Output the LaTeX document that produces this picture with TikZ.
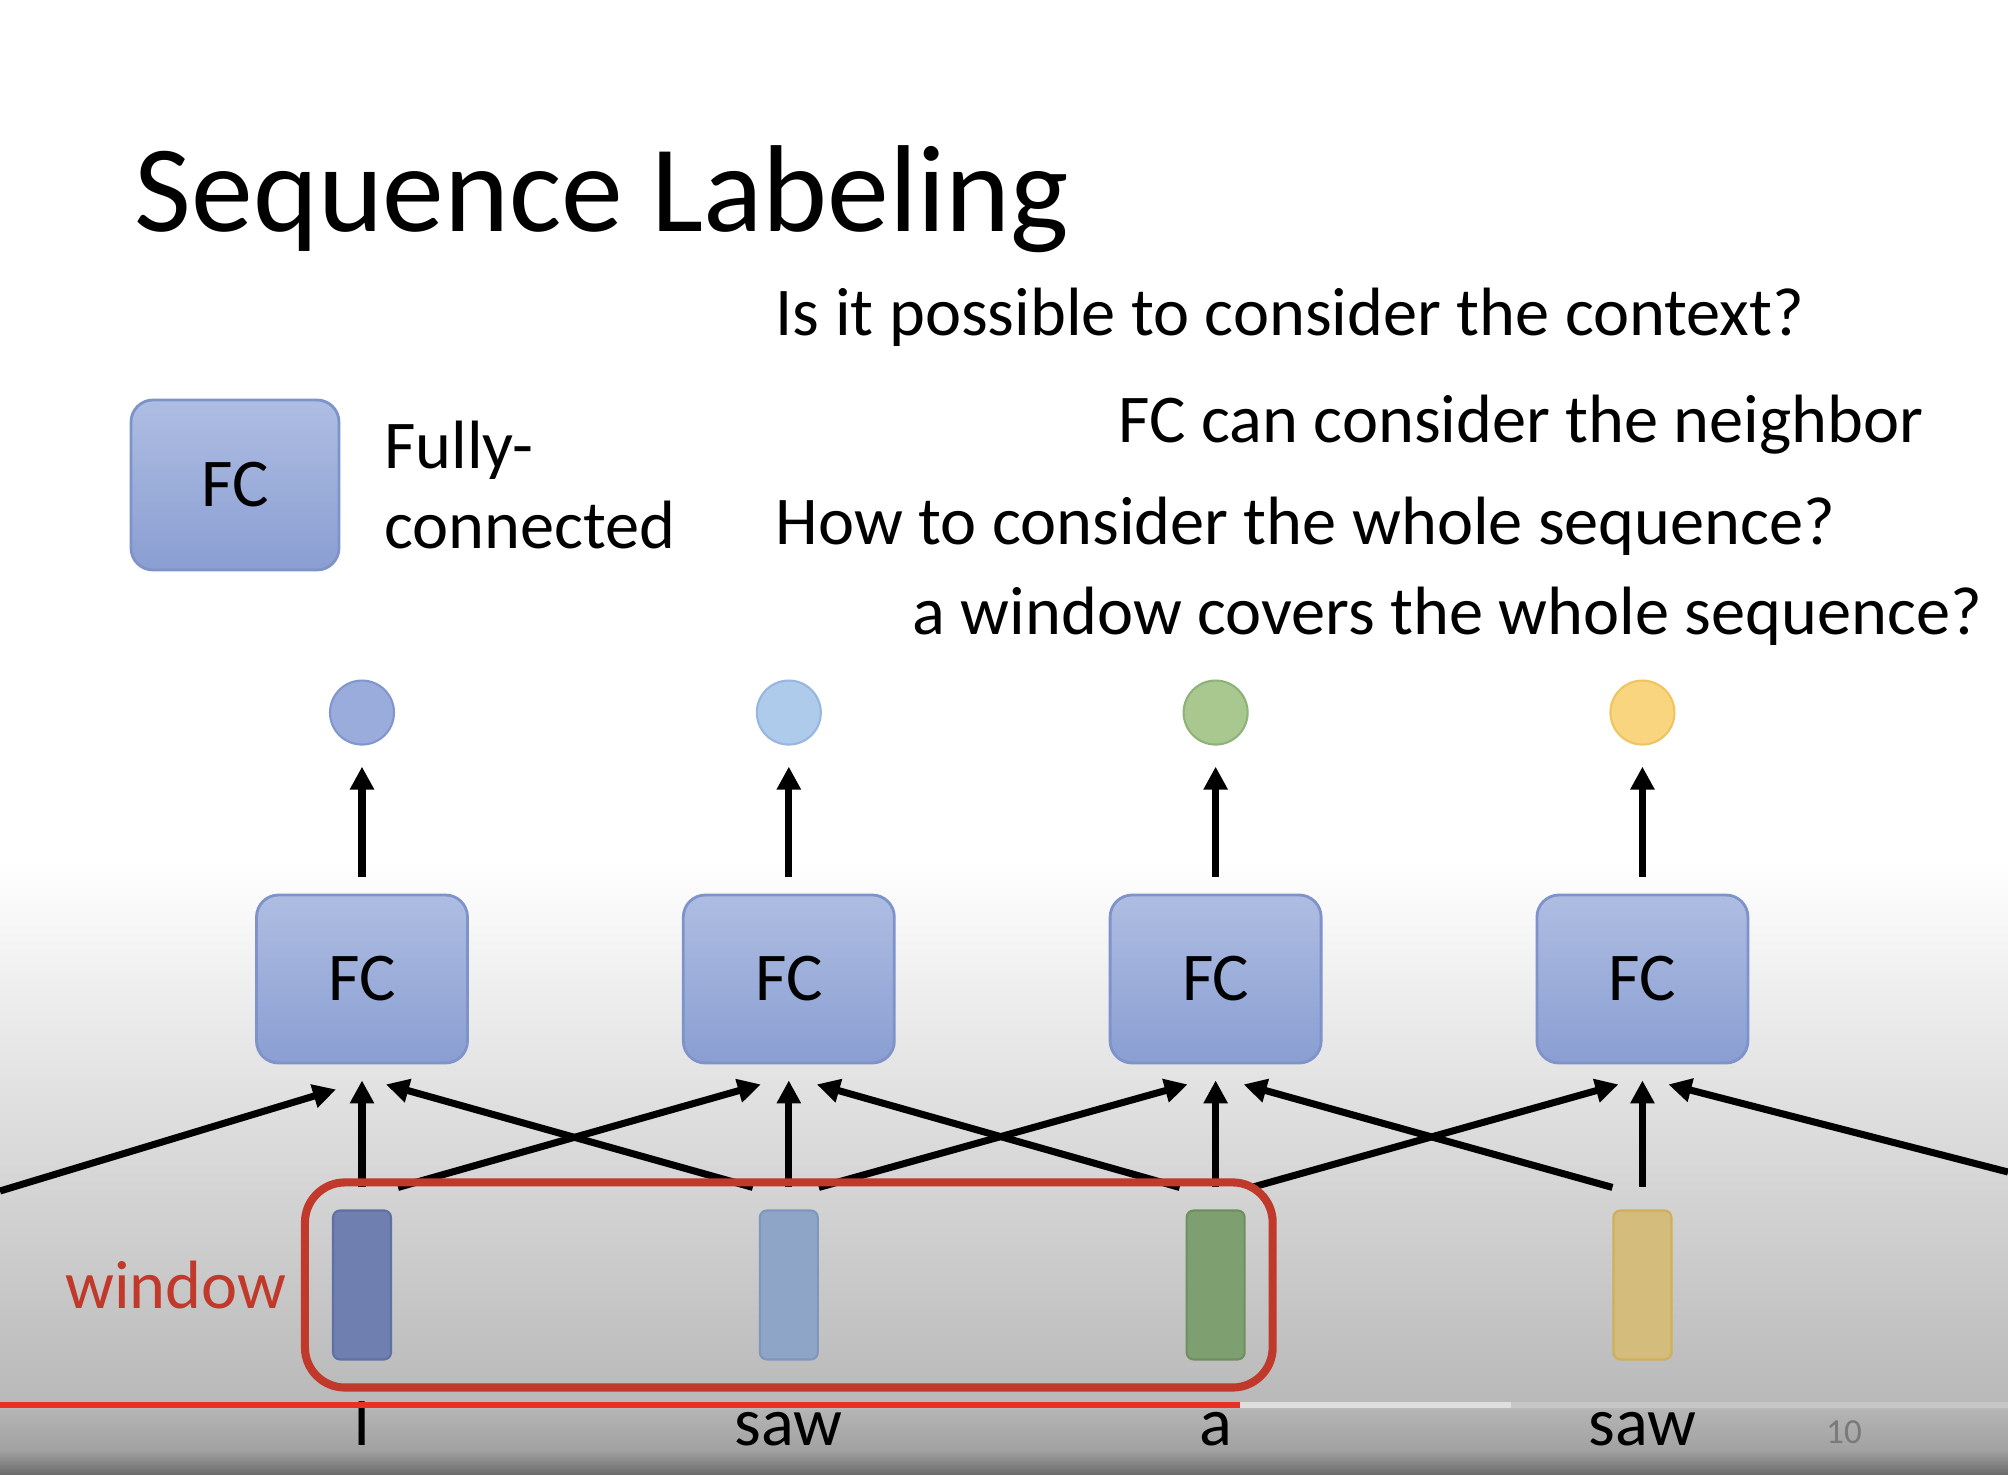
\documentclass[tikz,border=0pt]{standalone}
\usepackage{fontspec}
\setmainfont{Carlito}
\definecolor{fctop}{RGB}{174,189,226}
\definecolor{fcbot}{RGB}{138,158,210}
\definecolor{fcedge}{RGB}{127,147,203}
\definecolor{winred}{RGB}{192,57,43}
\definecolor{ytred}{RGB}{232,48,36}
\definecolor{bgmid}{RGB}{184,184,184}
\definecolor{bgtop}{RGB}{180,180,180}
\definecolor{bglow}{RGB}{162,162,162}
\definecolor{bgbot}{RGB}{108,108,108}
\usetikzlibrary{arrows.meta,positioning,fit}

\begin{document}
\begin{tikzpicture}[x=0.1mm, y=-0.1mm,
        >={Triangle[length=0.23cm,width=0.23cm]}, font=\fontsize{19.45}{23}\selectfont,
        fcbox/.style={draw=fcedge, line width=0.8pt, rounded corners=0.22cm,
            top color=fctop, bottom color=fcbot, minimum width=2.11cm, minimum height=1.68cm},
        outc/.style={circle, minimum size=0.64cm, inner sep=0pt, line width=0.6pt},
        vec/.style={rounded corners=0.07cm, minimum width=0.58cm, minimum height=1.49cm,
            inner sep=0pt, line width=0.6pt},
        arr/.style={->, line width=2pt},
        word/.style={anchor=base, inner sep=0pt}]
        \fill[white] (0,0) rectangle (2008,1474);
        \shade[top color=white, bottom color=bgmid] (0,860) rectangle (2008,1410);
        \shade[top color=bgtop, bottom color=bglow] (0,1410) rectangle (2008,1450);
        \shade[top color=bglow, bottom color=bgbot] (0,1450) rectangle (2008,1474);
        \useasboundingbox (0,0) rectangle (2008,1474);
        \node[anchor=base west, inner sep=0pt, font=\fontsize{35.2}{42}\selectfont] (title) at (134,231) {Sequence Labeling};
        \node[anchor=base west, inner sep=0pt] (q1) at (775,335) {Is it possible to consider the context?};
        \node[anchor=base west, inner sep=0pt] (q2) at (1118,442) {FC can consider the neighbor};
        \node[anchor=base west, inner sep=0pt] (q3) at (775,544) {How to consider the whole sequence?};
        \node[anchor=base west, inner sep=0pt] (q4) at (912,634) {a window covers the whole sequence?};
        \node[fcbox, minimum width=2.08cm, minimum height=1.70cm] (key) at (235,485) {FC};
        \node[right=0.43cm of key, align=left, inner sep=0pt] (keytxt) {Fully-\\connected};
        \node[fcbox] (f1) at (362,979) {FC};
        \node[fcbox, right=2.13cm of f1] (f2) {FC};
        \node[fcbox, right=2.13cm of f2] (f3) {FC};
        \node[fcbox, right=2.13cm of f3] (f4) {FC};
        \node[outc, fill={rgb,255:red,154;green,172;blue,220}, draw={rgb,255:red,130;green,150;blue,206}, above=1.48cm of f1] (o1) {};
        \node[outc, fill={rgb,255:red,175;green,203;blue,235}, draw={rgb,255:red,152;green,182;blue,224}, above=1.48cm of f2] (o2) {};
        \node[outc, fill={rgb,255:red,168;green,200;blue,144}, draw={rgb,255:red,143;green,178;blue,122}, above=1.48cm of f3] (o3) {};
        \node[outc, fill={rgb,255:red,248;green,213;blue,126}, draw={rgb,255:red,239;green,197;blue,96}, above=1.48cm of f4] (o4) {};
        \node[vec, fill={rgb,255:red,111;green,127;blue,175}, draw={rgb,255:red,95;green,112;blue,165}, below=1.45cm of f1] (b1) {};
        \node[vec, fill={rgb,255:red,142;green,165;blue,200}, draw={rgb,255:red,127;green,151;blue,190}, below=1.45cm of f2] (b2) {};
        \node[vec, fill={rgb,255:red,126;green,159;blue,111}, draw={rgb,255:red,111;green,143;blue,96}, below=1.45cm of f3] (b3) {};
        \node[vec, fill={rgb,255:red,212;green,188;blue,125}, draw={rgb,255:red,207;green,175;blue,88}, below=1.45cm of f4] (b4) {};
        \node[word] (w1) at ([yshift=-0.85cm]b1.south) {I};
        \node[word] (w2) at ([yshift=-0.85cm]b2.south) {saw};
        \node[word] (w3) at ([yshift=-0.85cm]b3.south) {a};
        \node[word] (w4) at ([yshift=-0.85cm]b4.south) {saw};
        \node[word, text={rgb,255:red,122;green,122;blue,122}, font=\fontsize{10}{12}\selectfont] (pg) at (1844,1443) {10};
        \coordinate (c0) at (0,1191);
        \coordinate (c5) at (2008,1172);
        \draw[arr] ([yshift=0.17cm]f1.north) -- ([yshift=-0.21cm]o1.south);
        \draw[arr] ([yshift=0.17cm]f2.north) -- ([yshift=-0.21cm]o2.south);
        \draw[arr] ([yshift=0.17cm]f3.north) -- ([yshift=-0.21cm]o3.south);
        \draw[arr] ([yshift=0.17cm]f4.north) -- ([yshift=-0.21cm]o4.south);
        \draw[arr] ([yshift=0.22cm]b1.north) -- ([yshift=-0.16cm]f1.south);
        \draw[arr] ([yshift=0.22cm]b2.north) -- ([yshift=-0.16cm]f2.south);
        \draw[arr] ([yshift=0.22cm]b3.north) -- ([yshift=-0.16cm]f3.south);
        \draw[arr] ([yshift=0.22cm]b4.north) -- ([yshift=-0.16cm]f4.south);
        \draw[arr] (c0) -- ([xshift=-0.26cm,yshift=-0.25cm]f1.south);
        \draw[arr] ([xshift=-0.36cm,yshift=0.22cm]b2.north) -- ([xshift=0.24cm,yshift=-0.2cm]f1.south);
        \draw[arr] ([xshift=0.36cm,yshift=0.22cm]b1.north) -- ([xshift=-0.28cm,yshift=-0.2cm]f2.south);
        \draw[arr] ([xshift=-0.36cm,yshift=0.22cm]b3.north) -- ([xshift=0.28cm,yshift=-0.2cm]f2.south);
        \draw[arr] ([xshift=0.30cm,yshift=0.22cm]b2.north) -- ([xshift=-0.28cm,yshift=-0.2cm]f3.south);
        \draw[arr] ([xshift=-0.30cm,yshift=0.22cm]b4.north) -- ([xshift=0.28cm,yshift=-0.2cm]f3.south);
        \draw[arr] ([xshift=0.36cm,yshift=0.22cm]b3.north) -- ([xshift=-0.24cm,yshift=-0.2cm]f4.south);
        \draw[arr] (c5) -- ([xshift=0.26cm,yshift=-0.2cm]f4.south);
        \node[draw=winred, line width=2.3pt, rounded corners=0.4cm, fit=(b1)(b3), inner sep=0.27cm] (win) {};
        \node[left=0.14cm of win, text=winred, inner sep=0pt] (wlab) {window};
        \fill[ytred] (0,1402) rectangle (1240,1408);
        \fill[gray!25] (1240,1402) rectangle (1511,1408);
        \fill[gray!45] (1511,1402) rectangle (2008,1408);
    \end{tikzpicture}
\end{document}
